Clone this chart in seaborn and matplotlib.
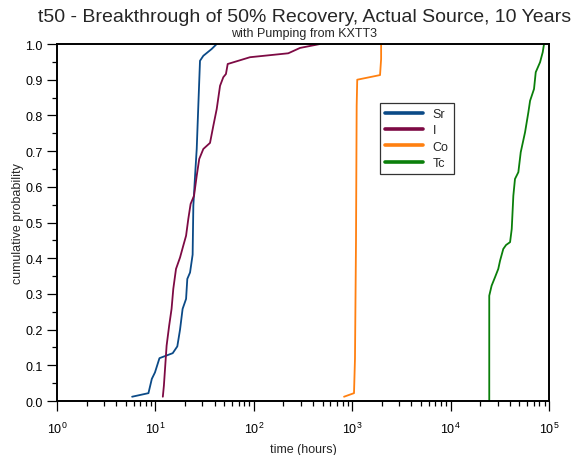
import numpy as np
import pandas as pd
import matplotlib
matplotlib.use("Agg")
import matplotlib.pyplot as plt
import seaborn as sns
from matplotlib.ticker import LogLocator, MultipleLocator, FormatStrFormatter

# values (time in hours, cumulative probability)
sr_time = [5.8, 8.5, 9.2, 9.9, 11.0, 15.0, 16.7, 17.8, 18.9, 20.5, 21.1, 22.5, 23.9,
           24.3, 25.3, 26.3, 27.3, 28.4, 30.7, 37.3, 42.0]
sr_prob = [0.012, 0.022, 0.062, 0.08, 0.12, 0.134, 0.153, 0.20, 0.258, 0.286, 0.342,
           0.36, 0.41, 0.547, 0.631, 0.706, 0.827, 0.953, 0.967, 0.986, 1.0]

i_time = [11.9, 12.2, 13.0, 13.8, 14.6, 15.2, 16.2, 17.8, 19.2, 20.5, 21.6, 22.8, 24.7,
          26.3, 27.9, 30.7, 35.9, 38.8, 42.0, 45.4, 49.0, 52.1, 54.3, 91.5, 224, 295, 471]
i_prob = [0.012, 0.043, 0.155, 0.211, 0.258, 0.314, 0.37, 0.402, 0.435, 0.463, 0.51,
          0.552, 0.575, 0.631, 0.678, 0.706, 0.723, 0.771, 0.818, 0.883, 0.907, 0.916,
          0.944, 0.963, 0.974, 0.989, 1.0]

co_time = [826, 1043, 1067, 1093, 1110, 1125, 1918, 1967, 1967]
co_prob = [0.012, 0.022, 0.118, 0.45, 0.827, 0.90, 0.913, 0.958, 1.0]

tc_time = [24700, 24700, 26100, 28200, 30500, 31800, 34300, 36600, 40200, 41800, 43400,
           45100, 48800, 51600, 57100, 61700, 64200, 70400, 73300, 81100, 86300, 89000]
tc_prob = [0.0, 0.295, 0.323, 0.346, 0.37, 0.393, 0.426, 0.437, 0.445, 0.482, 0.575,
           0.622, 0.641, 0.697, 0.753, 0.809, 0.841, 0.874, 0.921, 0.949, 0.977, 1.0]

names = ["Sr", "I", "Co", "Tc"]
colors = ["#0b4a87", "#7d0a44", "#ff8010", "#0a7f0a"]

frames = []
for n, t, p in zip(names, [sr_time, i_time, co_time, tc_time], [sr_prob, i_prob, co_prob, tc_prob]):
    frames.append(pd.DataFrame({"time": t, "prob": p, "isotope": n}))
df = pd.concat(frames, ignore_index=True)

sns.set_style("ticks")
plt.rcParams["font.family"] = ["Liberation Sans", "DejaVu Sans"]
plt.rcParams["mathtext.fontset"] = "custom"
plt.rcParams["mathtext.rm"] = "Liberation Sans"
plt.rcParams["mathtext.it"] = "Liberation Sans:italic"

fig = plt.figure(figsize=(5.71, 4.56), dpi=100)
ax = fig.add_axes([0.0998, 0.1184, 0.8617, 0.7829])

sns.lineplot(data=df, x="time", y="prob", hue="isotope", hue_order=names,
             palette=dict(zip(names, colors)), sort=False, estimator=None,
             linewidth=1.3, ax=ax)

ax.set_xscale("log")
ax.set_xlim(1, 1e5)
ax.set_ylim(0, 1)
ax.xaxis.set_major_locator(LogLocator(base=10, numticks=10))
ax.xaxis.set_minor_locator(LogLocator(base=10, subs=np.arange(2, 10), numticks=20))
ax.yaxis.set_major_locator(MultipleLocator(0.1))
ax.yaxis.set_minor_locator(MultipleLocator(0.05))
ax.yaxis.set_major_formatter(FormatStrFormatter("%.1f"))

for s in ax.spines.values():
    s.set_visible(True)
    s.set_linewidth(1.4)
    s.set_color("black")
ax.tick_params(axis="both", which="major", direction="out", length=7, width=0.9,
               labelsize=9, color="black", labelcolor="black")
ax.tick_params(axis="both", which="minor", direction="out", length=3.5, width=0.9, color="black")
ax.tick_params(axis="x", pad=7)

ax.set_xlabel("time (hours)", fontsize=9, labelpad=5)
ax.set_ylabel("cumulative probability", fontsize=9, labelpad=1)

fig.text(0.533, 0.962, "t50 - Breakthrough of 50% Recovery, Actual Source, 10 Years",
         ha="center", va="center", fontsize=14)
fig.text(0.532, 0.925, "with Pumping from KXTT3", ha="center", va="center", fontsize=9)

leg = ax.legend(loc="upper left", bbox_to_anchor=(0.657, 0.835), frameon=True,
                fancybox=False, fontsize=9, handlelength=3.0, borderpad=0.4,
                labelspacing=0.35, handletextpad=0.8, borderaxespad=0)
leg.get_frame().set_edgecolor("black")
leg.get_frame().set_linewidth(0.9)
for line in leg.get_lines():
    line.set_linewidth(2.6)

fig.savefig("out.png", dpi=100)
